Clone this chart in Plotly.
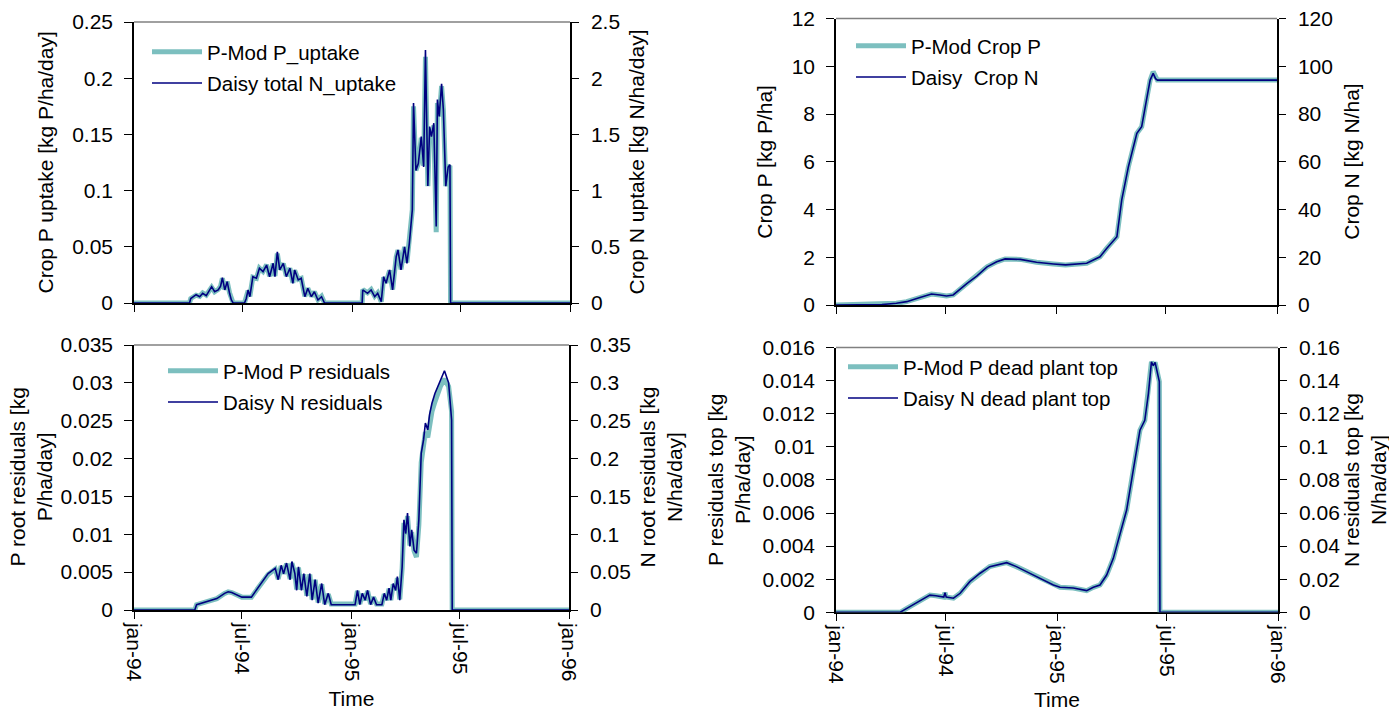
import pandas as pd
import plotly.graph_objects as go

BASE_DATE = pd.Timestamp("1994-01-01")
W, H = 1389, 711
FONT = "Arial, Liberation Sans, sans-serif"
TEAL = "#7CBFBF"
NAVY = "#000080"

# ---------------- data (days counted from 1 Jan 1994) ----------------
# Crop uptake, kg/ha/day
uptake_days = [0, 93, 95, 99, 104, 110, 115, 121, 126, 130, 135, 141, 145, 148, 152, 156, 160, 163, 166,
               185, 188, 191, 194, 199, 205, 210, 216, 222, 227, 233, 236, 240, 244, 250, 255, 261, 266, 269,
               275, 280, 286, 291, 297, 302, 308, 314, 319,
               382, 383, 391, 397, 403, 408, 414, 418, 422, 428, 433, 439, 442, 447, 453, 457, 461, 466, 468,
               472, 476, 481, 485, 488, 492, 495, 498, 502, 506, 508, 511, 515, 518, 522, 526, 529, 530, 730]
pmod_p_uptake = [0, 0, 0.004, 0.006, 0.007, 0.006, 0.009, 0.007, 0.011, 0.014, 0.010, 0.012, 0.015, 0.022,
                 0.012, 0.019, 0.009, 0.003, 0,
                 0, 0.004, 0.011, 0.006, 0.023, 0.022, 0.031, 0.028, 0.034, 0.024, 0.035, 0.024, 0.044, 0.030,
                 0.035, 0.024, 0.031, 0.018, 0.029, 0.021, 0.022, 0.006, 0.013, 0.006, 0.010, 0.003, 0.006, 0,
                 0, 0.012, 0.009, 0.012, 0.006, 0.009, 0.001, 0.023, 0.018, 0.029, 0.012, 0.041, 0.047, 0.030,
                 0.050, 0.036, 0.053, 0.083, 0.175, 0.118, 0.124, 0.147, 0.122, 0.219, 0.104, 0.155, 0.148,
                 0.158, 0.063, 0.178, 0.166, 0.193, 0.172, 0.104, 0.121, 0.122, 0, 0]
daisy_n_uptake = [0, 0, 0.04, 0.056, 0.074, 0.056, 0.086, 0.065, 0.11, 0.145, 0.10, 0.116, 0.15, 0.225,
                  0.116, 0.19, 0.086, 0.027, 0,
                  0, 0.04, 0.116, 0.056, 0.234, 0.22, 0.309, 0.279, 0.338, 0.234, 0.353, 0.234, 0.456, 0.294,
                  0.353, 0.234, 0.309, 0.175, 0.294, 0.205, 0.22, 0.056, 0.13, 0.056, 0.10, 0.027, 0.056, 0,
                  0, 0.116, 0.086, 0.116, 0.056, 0.086, 0.012, 0.234, 0.175, 0.294, 0.116, 0.412, 0.472, 0.294,
                  0.50, 0.353, 0.53, 0.83, 1.78, 1.18, 1.24, 1.48, 1.21, 2.25, 1.04, 1.57, 1.48,
                  1.60, 0.68, 1.81, 1.66, 1.95, 1.72, 1.04, 1.21, 1.23, 0, 0]

# Crop content, kg/ha
crop_days = [0, 76, 100, 117, 139, 158, 172, 183, 194, 217, 233, 250, 266, 280, 305, 332, 360, 380, 415,
             437, 448, 465, 473, 484, 498, 506, 514, 520, 525, 529, 532, 730]
pmod_crop_p = [0, 0.02, 0.07, 0.14, 0.31, 0.46, 0.42, 0.38, 0.42, 0.91, 1.21, 1.60, 1.81, 1.93, 1.91, 1.79,
               1.72, 1.68, 1.75, 2.02, 2.37, 2.86, 4.40, 5.79, 7.19, 7.47, 8.59, 9.42, 9.77, 9.50, 9.42, 9.42]
daisy_crop_n = [0, 0.2, 0.7, 1.4, 3.1, 4.6, 4.2, 3.8, 4.2, 9.1, 12.1, 16.0, 18.1, 19.3, 19.1, 17.9,
                17.2, 16.8, 17.5, 20.2, 23.7, 28.6, 44.0, 57.9, 71.9, 74.7, 85.9, 94.2, 97.0, 94.8, 94.2, 94.2]

# Root residuals, kg/ha/day
residual_days = [0, 102, 105, 122, 139, 152, 158, 164, 181, 197, 209, 225, 237, 242, 247, 251, 256, 262,
                 265, 270, 273, 276, 281, 285, 290, 295, 299, 304, 309, 315, 320, 326, 331, 371, 375, 379,
                 383, 388, 392, 397, 402, 407, 416, 420, 424, 428, 431, 435, 439, 442, 446, 450, 453, 456,
                 459, 463, 466, 470, 474, 478, 482, 486, 489, 493, 496, 500, 505, 514, 521, 528, 533, 534, 730]
pmod_p_residuals = [0, 0, 0.0007, 0.0011, 0.0015, 0.0022, 0.0024, 0.0023, 0.0017, 0.0017,
                    0.0030, 0.0047, 0.0054, 0.0041, 0.0058, 0.0048, 0.0061, 0.0041, 0.0062, 0.0048,
                    0.0027, 0.0056, 0.0027, 0.0047, 0.0019, 0.0047, 0.0014, 0.0040, 0.0010, 0.0034,
                    0.0008, 0.0021, 0.0008, 0.0008, 0.0025, 0.0008, 0.0021, 0.0013, 0.0025, 0.0008,
                    0.0017, 0.0008, 0.0008, 0.0021, 0.0013, 0.0028, 0.0013, 0.0034, 0.0026, 0.0042,
                    0.0014, 0.0055, 0.0115, 0.0100, 0.0124, 0.0085, 0.0103, 0.0078, 0.0070, 0.0112,
                    0.0195, 0.0215, 0.0235, 0.0228, 0.0248, 0.0262, 0.0275, 0.0295, 0.0305, 0.0295,
                    0.0262, 0, 0]
daisy_n_residuals = [0, 0, 0.007, 0.011, 0.015, 0.022, 0.024, 0.023, 0.017, 0.017,
                     0.031, 0.048, 0.055, 0.040, 0.059, 0.048, 0.062, 0.040, 0.064, 0.048,
                     0.026, 0.057, 0.026, 0.048, 0.018, 0.048, 0.013, 0.040, 0.009, 0.035,
                     0.007, 0.022, 0.007, 0.007, 0.026, 0.007, 0.022, 0.013, 0.026, 0.007,
                     0.017, 0.007, 0.007, 0.022, 0.013, 0.029, 0.013, 0.035, 0.026, 0.044,
                     0.013, 0.057, 0.119, 0.101, 0.128, 0.084, 0.106, 0.079, 0.075, 0.119,
                     0.207, 0.225, 0.247, 0.238, 0.258, 0.273, 0.286, 0.304, 0.316, 0.300,
                     0.251, 0, 0]

# Dead plant top residuals, kg/ha/day
dead_days = [0, 106, 117, 133, 144, 155, 165, 172, 178, 180, 182, 194, 205, 221, 238, 254, 271, 282, 298,
             315, 337, 359, 370, 392, 414, 425, 436, 447, 458, 469, 480, 491, 502, 510, 516, 521, 524, 527,
             531, 534, 535, 730]
pmod_dead_top = [0, 0, 0.00024, 0.00058, 0.00085, 0.00104, 0.00100, 0.00094, 0.00092, 0.00118,
                 0.00092, 0.00085, 0.00115, 0.00185, 0.00236, 0.00276, 0.00292, 0.00300, 0.00276, 0.00245,
                 0.00205, 0.00165, 0.00151, 0.00147, 0.00131, 0.00151, 0.00165, 0.00225, 0.00326, 0.00477,
                 0.00618, 0.0086, 0.0110, 0.0116, 0.01323, 0.01514, 0.0149, 0.0151, 0.01444, 0.01394,
                 0, 0]
daisy_n_dead_top = [0, 0, 0.0024, 0.0058, 0.0085, 0.0104, 0.0100, 0.0094, 0.0092, 0.0118,
                    0.0092, 0.0085, 0.0115, 0.0185, 0.0236, 0.0276, 0.0292, 0.0300, 0.0276, 0.0245,
                    0.0205, 0.0165, 0.0151, 0.0147, 0.0131, 0.0151, 0.0165, 0.0225, 0.0326, 0.0477,
                    0.0618, 0.086, 0.110, 0.116, 0.1323, 0.1514, 0.149, 0.151, 0.1444, 0.1394,
                    0, 0]

x_tickvals = ["1994-01-01", "1994-07-01", "1995-01-01", "1995-07-01", "1996-01-01"]
x_ticktext = ["jan-94", "jul-94", "jan-95", "jul-95", "jan-96"]


def to_dates(days):
    return [BASE_DATE + pd.Timedelta(days=float(d)) for d in days]


def axis_id(letter, n):
    return letter if n == 1 else f"{letter}{n}"


# panel layout in pixels: plot box (left, right, top, bottom)
panels = [
    dict(box=(134, 570, 22, 303), days=uptake_days, p=pmod_p_uptake, n=daisy_n_uptake,
         p_name="P-Mod P_uptake", n_name="Daisy total N_uptake",
         p_range=0.25, p_dtick=0.05, n_range=2.5, n_dtick=0.5, bottom=False,
         p_title="Crop P uptake [kg P/ha/day]", n_title="Crop N uptake [kg N/ha/day]",
         p_tx=45, n_tx=636, leg=(147, 32)),
    dict(box=(836, 1277, 18.5, 305), days=crop_days, p=pmod_crop_p, n=daisy_crop_n,
         p_name="P-Mod Crop P", n_name="Daisy  Crop N",
         p_range=12, p_dtick=2, n_range=120, n_dtick=20, bottom=False,
         p_title="Crop P [kg P/ha]", n_title="Crop N [kg N/ha]",
         p_tx=765, n_tx=1352, leg=(851, 26)),
    dict(box=(134, 569, 345, 610), days=residual_days, p=pmod_p_residuals, n=daisy_n_residuals,
         p_name="P-Mod P residuals", n_name="Daisy N residuals",
         p_range=0.035, p_dtick=0.005, n_range=0.35, n_dtick=0.05, bottom=True,
         p_title="P root residuals [kg<br>P/ha/day]", n_title="N root residuals [kg<br>N/ha/day]",
         p_tx=30, n_tx=660, leg=(163, 351)),
    dict(box=(836, 1278, 347.5, 612.3), days=dead_days, p=pmod_dead_top, n=daisy_n_dead_top,
         p_name="P-Mod P dead plant top", n_name="Daisy N dead plant top",
         p_range=0.016, p_dtick=0.002, n_range=0.16, n_dtick=0.02, bottom=True,
         p_title="P residuals top [kg<br>P/ha/day]", n_title="N residuals top [kg<br>N/ha/day]",
         p_tx=729, n_tx=1365, leg=(843, 347)),
]

fig = go.Figure()
layout = dict(width=W, height=H, margin=dict(l=0, r=0, t=0, b=0),
              paper_bgcolor="white", plot_bgcolor="white",
              font=dict(family=FONT, size=21, color="black"),
              showlegend=True, annotations=[], shapes=[])

tick_font = dict(family=FONT, size=21, color="black")
title_font = dict(family=FONT, size=21, color="black")

for i, pnl in enumerate(panels):
    k = i + 1
    xl, xr, yt, yb = pnl["box"]
    xdom = [xl / W, xr / W]
    ydom = [(H - yb) / H, (H - yt) / H]
    xa = axis_id("x", k)
    ya_l, ya_r = axis_id("y", k), f"y{k + 4}"
    leg = "legend" if k == 1 else f"legend{k}"
    dates = to_dates(pnl["days"])

    fig.add_trace(go.Scatter(x=dates, y=pnl["p"], name=pnl["p_name"], mode="lines",
                             line=dict(color=TEAL, width=5), xaxis=xa, yaxis=ya_l,
                             legend=leg, legendgroup=f"p{k}", cliponaxis=False))
    fig.add_trace(go.Scatter(x=dates, y=pnl["n"], name=pnl["n_name"], mode="lines",
                             line=dict(color=NAVY, width=1.6), xaxis=xa, yaxis=ya_r,
                             legend=leg, legendgroup=f"n{k}", cliponaxis=False))

    xkey = "xaxis" if k == 1 else f"xaxis{k}"
    ykey = "yaxis" if k == 1 else f"yaxis{k}"
    layout[xkey] = dict(
        domain=xdom, anchor=ya_l, type="date", range=["1994-01-01", "1996-01-01"],
        tickmode="array", tickvals=x_tickvals, ticktext=x_ticktext,
        showticklabels=pnl["bottom"], tickangle=90, tickfont=tick_font,
        ticks="outside", ticklen=7, tickcolor="black", tickwidth=1,
        showline=True, linecolor="black", linewidth=1.5, showgrid=False, zeroline=False,
        layer="below traces", automargin=False,
        title=dict(text="Time" if pnl["bottom"] else "", font=title_font, standoff=11),
    )
    common_y = dict(domain=ydom, anchor=xa, showgrid=False, zeroline=False, automargin=False,
                    tickfont=tick_font, tickcolor="black", tickwidth=1, layer="below traces")
    layout[ykey] = dict(common_y, side="left", range=[0, pnl["p_range"]], dtick=pnl["p_dtick"],
                        ticks="outside", ticklen=8, ticklabelstandoff=7,
                        showline=True, linecolor="black", linewidth=1.5)
    layout[f"yaxis{k + 4}"] = dict(common_y, side="right", overlaying=ya_l, range=[0, pnl["n_range"]],
                                   dtick=pnl["n_dtick"], ticks="outside", ticklen=7, ticklabelstandoff=8,
                                   showline=True, linecolor="black", linewidth=1.5)
    # inner half of the crossing tick marks on the right-hand axis
    layout[f"yaxis{k + 8}"] = dict(common_y, side="right", overlaying=ya_l, range=[0, pnl["n_range"]],
                                   dtick=pnl["n_dtick"], ticks="inside", ticklen=6,
                                   showticklabels=False, showline=False)

    # grey frame line along the top of the plot area
    layout["shapes"].append(dict(type="line", xref=f"{xa} domain", yref=f"{ya_l} domain",
                                 x0=0, x1=1, y0=1, y1=1, line=dict(color="#808080", width=1.5)))

    # axis titles
    ymid = 1 - ((yt + yb) / 2) / H
    layout["annotations"].append(dict(text=pnl["p_title"], xref="paper", yref="paper",
                                      x=pnl["p_tx"] / W, y=ymid, textangle=-90, showarrow=False,
                                      font=title_font, xanchor="center", yanchor="middle"))
    layout["annotations"].append(dict(text=pnl["n_title"], xref="paper", yref="paper",
                                      x=pnl["n_tx"] / W, y=ymid, textangle=-90, showarrow=False,
                                      font=title_font, xanchor="center", yanchor="middle"))

    lx, ly = pnl["leg"]
    layout[leg] = dict(x=lx / W, y=1 - ly / H, xanchor="left", yanchor="top",
                       bgcolor="rgba(0,0,0,0)", borderwidth=0, font=dict(family=FONT, size=20.5),
                       tracegroupgap=1.5, itemwidth=50)

fig.update_layout(**layout)
fig.write_html("out.html")
